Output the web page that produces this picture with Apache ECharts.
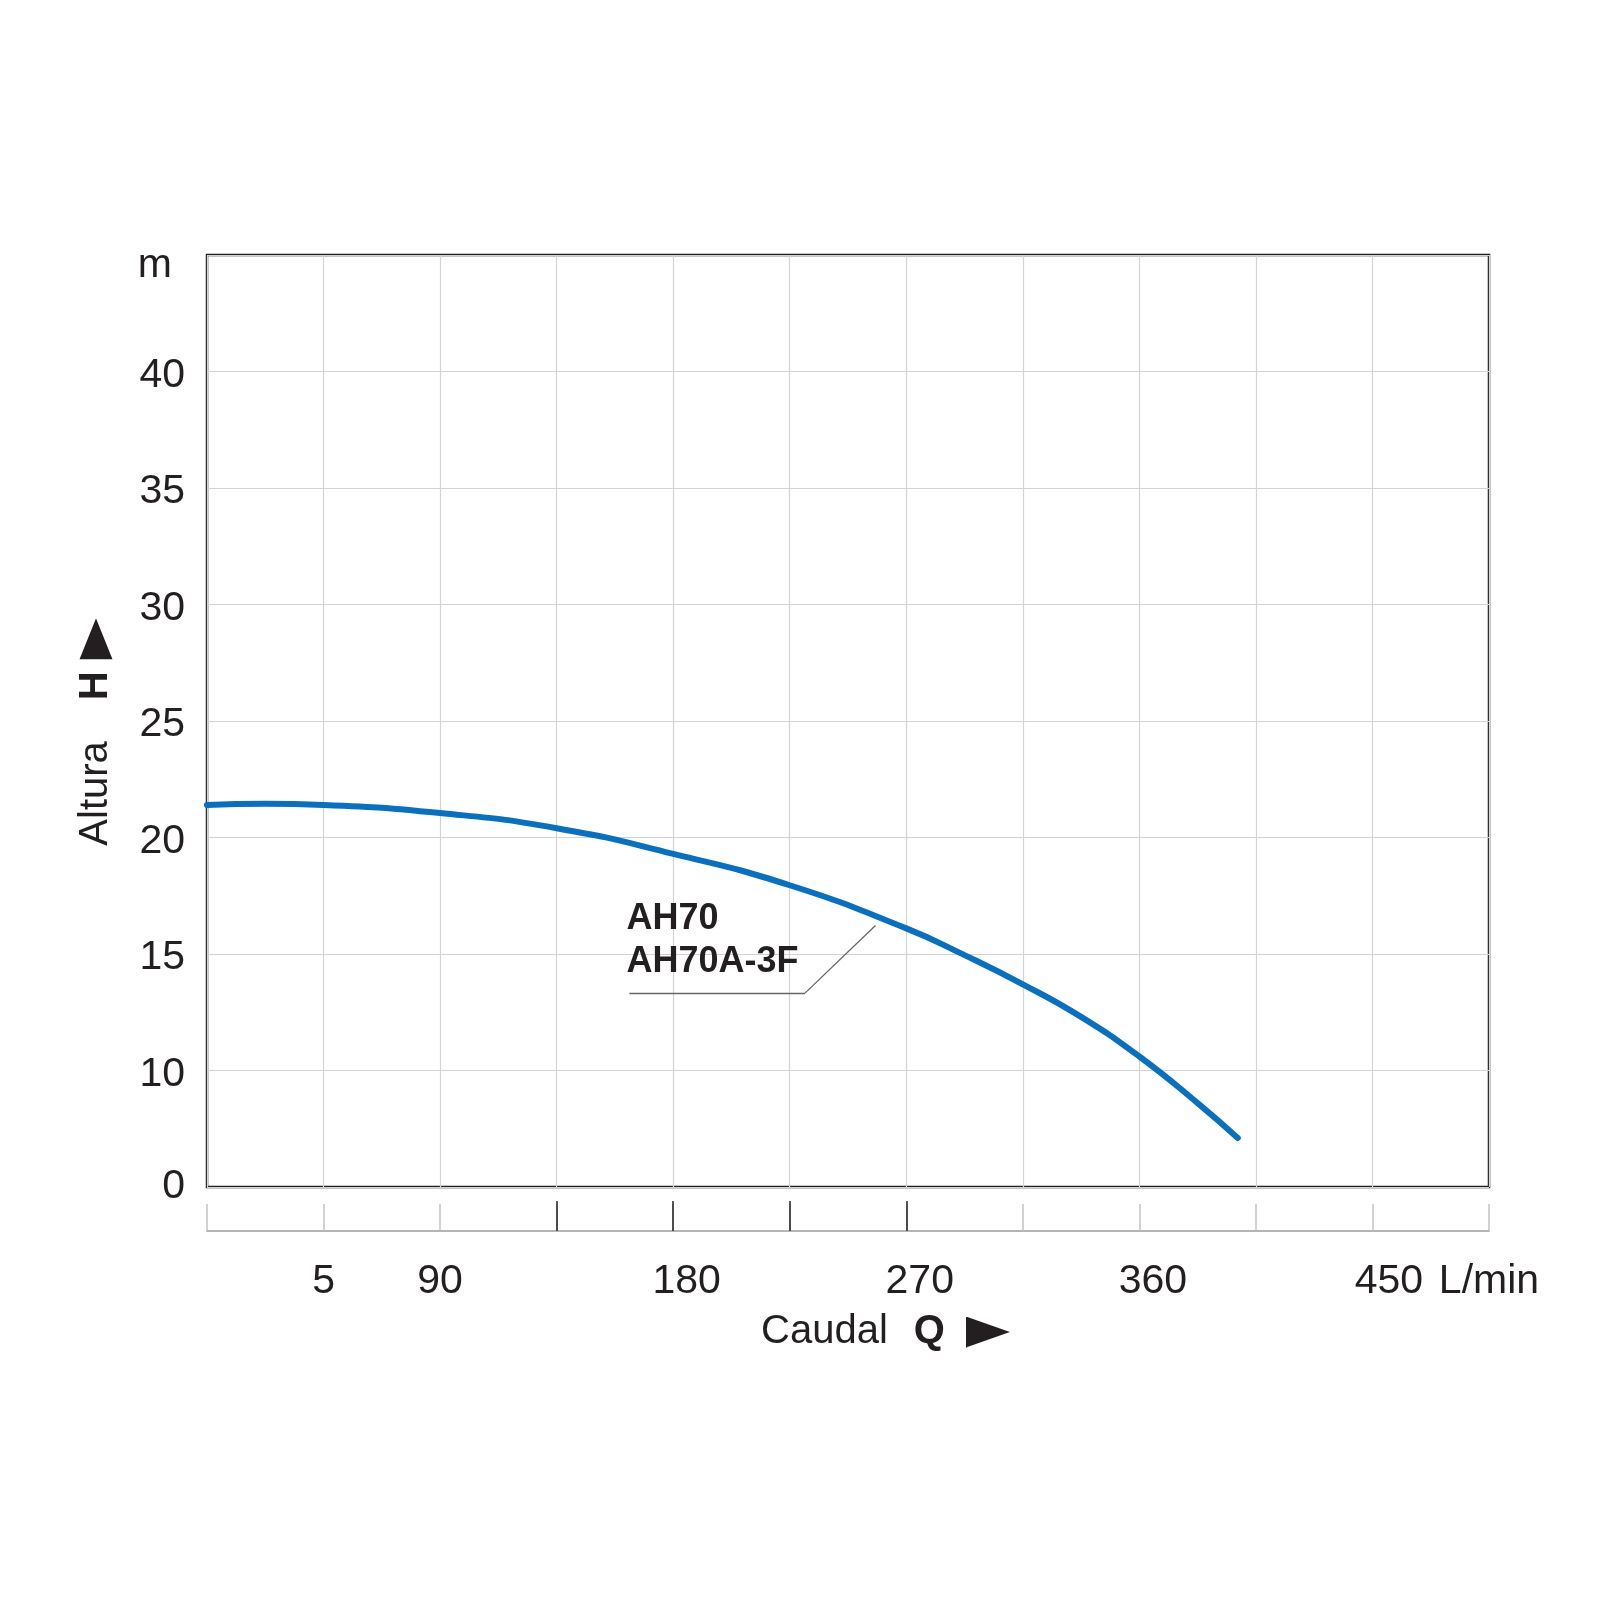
<!DOCTYPE html>
<html lang="es">

<head>
    <meta charset="UTF-8" />
    <title>AH70 curva</title>
    <script src="https://cdn.jsdelivr.net/npm/echarts@6.0.0/dist/echarts.min.js"></script>
    <style>
        body { margin: 0; background: #fff; }
    </style>
</head>

<body>
    <div id="main" style="width: 1600px; height: 1600px;"></div>

    <script>
        // caudal Q (L/min) and altura H.
        // H is in axis units: the bottom line is printed "0" but sits where 5 would be.
        const caudal = [0, 22.5, 45, 90, 135, 180, 225, 270, 292.5, 315, 337.5, 360, 382.5, 398];
        const altura = [21.4, 21.45, 21.4, 21.05, 20.4, 19.3, 17.95, 16.1, 14.95, 13.7, 12.3, 10.6, 8.6, 7.1];

        const yTickLabels = ['0', '10', '15', '20', '25', '30', '35', '40', 'm'];
        const xLabelValues = [45, 90, 180, 270, 360, 450, 495];
        const xLabelTexts = ['5', '90', '180', '270', '360', '450', 'L/min'];
        const darkTickValues = [135, 180, 225, 270];

        // model label and its leader line, in data units
        const modelNames = ['AH70', 'AH70A-3F'];
        const modelLabelQ = [162, 162];
        const modelLabelH = [16.48, 14.64];
        const leaderQ = [163.1, 230.9, 258.1];
        const leaderH = [13.32, 13.32, 16.22];

        const ink = '#231f20';
        const font = 'Liberation Sans';

        function triangle(w, h) {
            const c = document.createElement('canvas');
            c.width = w * 2;
            c.height = h * 2;
            const g = c.getContext('2d');
            g.fillStyle = ink;
            g.beginPath();
            g.moveTo(0, 0);
            g.lineTo(c.width, c.height / 2);
            g.lineTo(0, c.height);
            g.closePath();
            g.fill();
            return c;
        }

        const chart = echarts.init(document.getElementById('main'));

        const xBase = { type: 'value', min: 0, max: 495, interval: 45, gridIndex: 0, position: 'bottom' };

        chart.setOption({
            animation: false,
            backgroundColor: '#fff',
            grid: {
                left: 207, right: 111, top: 255, bottom: 413,
                show: true, borderColor: ink, borderWidth: 2.5
            },
            xAxis: [
                Object.assign({}, xBase, {
                    axisLine: { show: false },
                    axisTick: { show: false },
                    axisLabel: { show: false },
                    splitLine: { show: true, lineStyle: { color: '#d3d3d3', width: 1.2 } },
                    name: '{n|Caudal}{b|Q}{t| }',
                    nameLocation: 'middle',
                    nameGap: 125,
                    nameTextStyle: {
                        padding: [0, 0, 0, 75],
                        rich: {
                            n: { fontSize: 40, fontFamily: font, color: ink },
                            b: { fontSize: 40, fontFamily: font, fontWeight: 'bold', color: ink, padding: [0, 21, 0, 26] },
                            t: { width: 44, height: 31, backgroundColor: { image: triangle(44, 31) } }
                        }
                    }
                }),
                Object.assign({}, xBase, {
                    offset: 44,
                    axisLine: { show: true, lineStyle: { color: '#9d9d9d', width: 1.5 } },
                    axisTick: { show: true, inside: true, length: 27, lineStyle: { color: '#c4c4c4', width: 1.5 } },
                    splitLine: { show: false },
                    axisLabel: {
                        customValues: xLabelValues,
                        margin: 30,
                        fontSize: 41,
                        fontFamily: font,
                        color: ink,
                        formatter: function (v) {
                            const t = xLabelTexts[xLabelValues.indexOf(v)];
                            if (v >= 180 && v <= 360) return '{r|' + t + '}';
                            if (v === 450) return '{s|' + t + '}';
                            return t;
                        },
                        rich: {
                            r: { fontSize: 41, fontFamily: font, color: ink, padding: [0, 0, 0, 27] },
                            s: { fontSize: 41, fontFamily: font, color: ink, padding: [0, 0, 0, 33] }
                        }
                    }
                }),
                Object.assign({}, xBase, {
                    offset: 44,
                    axisLine: { show: false },
                    axisTick: { show: true, inside: true, length: 30, customValues: darkTickValues, lineStyle: { color: ink, width: 1.5 } },
                    axisLabel: { show: false },
                    splitLine: { show: false }
                })
            ],
            yAxis: {
                type: 'value', min: 5, max: 45, interval: 5,
                axisLine: { show: false },
                axisTick: { show: false },
                splitLine: { show: true, lineStyle: { color: '#d3d3d3', width: 1.2 } },
                axisLabel: {
                    margin: 22,
                    fontSize: 41,
                    fontFamily: font,
                    color: ink,
                    formatter: function (v) {
                        const t = yTickLabels[Math.round((v - 5) / 5)];
                        if (t === 'm') return '{m|m}';
                        if (t === '0') return t;
                        return '{d|' + t + '}';
                    },
                    rich: {
                        m: { fontSize: 41, fontFamily: font, color: ink, padding: [22, 13, 0, 0] },
                        d: { fontSize: 41, fontFamily: font, color: ink, padding: [8, 0, 0, 0] }
                    }
                },
                name: '{n|Altura}{b|H}{t| }',
                nameLocation: 'middle',
                nameGap: 91,
                nameTextStyle: {
                    padding: [0, 22, 0, 0],
                    rich: {
                        n: { fontSize: 40, fontFamily: font, color: ink },
                        b: { fontSize: 40, fontFamily: font, fontWeight: 'bold', color: ink, padding: [0, 12, 0, 41] },
                        t: { width: 41, height: 33, backgroundColor: { image: triangle(41, 33) } }
                    }
                }
            },
            series: [{
                type: 'line',
                xAxisIndex: 0,
                data: caudal.map((q, i) => [q, altura[i]]),
                smooth: 0.5,
                showSymbol: false,
                lineStyle: { color: '#0a6fbd', width: 6, cap: 'round' },
                markLine: {
                    silent: true,
                    symbol: 'none',
                    label: { show: false },
                    lineStyle: { color: '#666', width: 1.3, type: 'solid' },
                    data: [
                        [{ coord: [leaderQ[0], leaderH[0]] }, { coord: [leaderQ[1], leaderH[1]] }],
                        [{ coord: [leaderQ[1], leaderH[1]] }, { coord: [leaderQ[2], leaderH[2]] }]
                    ]
                },
                markPoint: {
                    silent: true,
                    symbol: 'circle',
                    symbolSize: 0,
                    label: {
                        show: true,
                        position: 'right',
                        distance: 0,
                        formatter: '{b}',
                        fontSize: 36,
                        fontWeight: 'bold',
                        fontFamily: font,
                        color: ink
                    },
                    data: modelNames.map((n, i) => ({ name: n, coord: [modelLabelQ[i], modelLabelH[i]] }))
                }
            }]
        });
    </script>
</body>

</html>
